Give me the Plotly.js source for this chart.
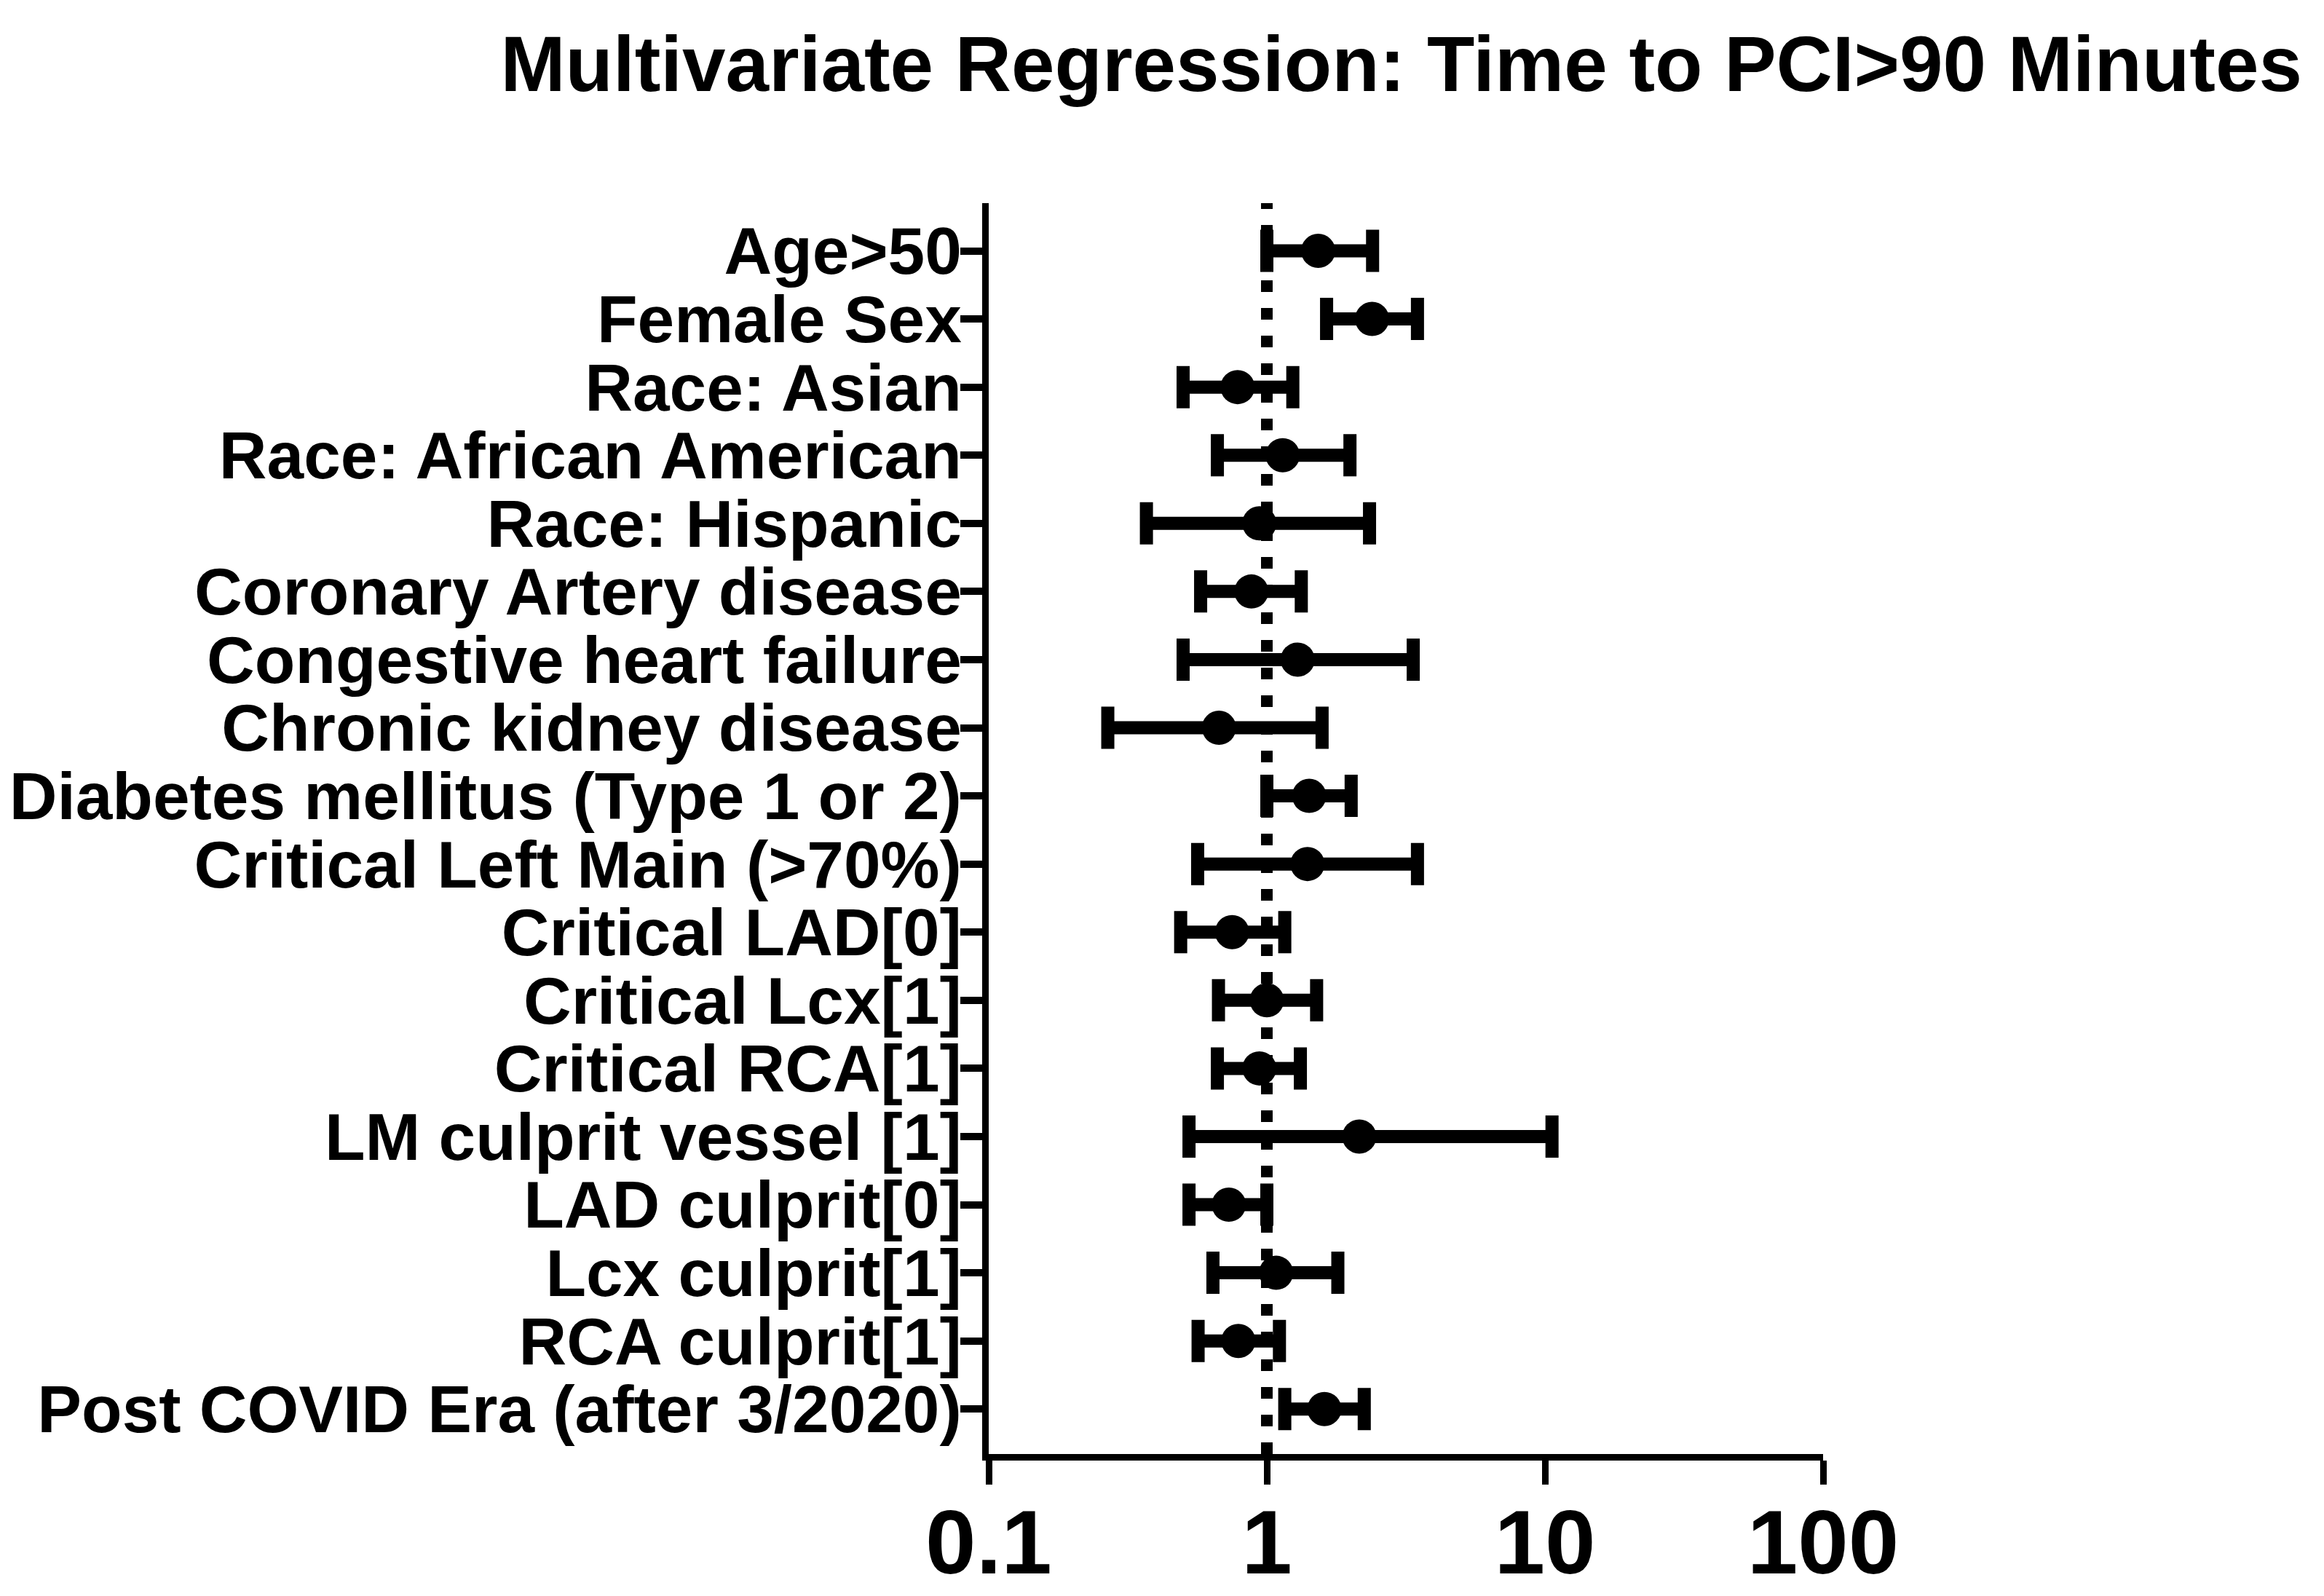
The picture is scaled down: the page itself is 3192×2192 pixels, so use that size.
<!DOCTYPE html>
<html>
<head>
<meta charset="utf-8">
<script src="https://cdn.plot.ly/plotly-3.0.1.min.js"></script>
<style>html,body{margin:0;padding:0;background:#fff;}#chart{width:3192px;height:2192px;}</style>
</head>
<body>
<div id="chart"></div>
<script>
const categories = [
  "Age>50",
  "Female Sex",
  "Race: Asian",
  "Race: African American",
  "Race: Hispanic",
  "Coronary Artery disease",
  "Congestive heart failure",
  "Chronic kidney disease",
  "Diabetes mellitus (Type 1 or 2)",
  "Critical Left Main (>70%)",
  "Critical LAD[0]",
  "Critical Lcx[1]",
  "Critical RCA[1]",
  "LM culprit vessel [1]",
  "LAD culprit[0]",
  "Lcx culprit[1]",
  "RCA culprit[1]",
  "Post COVID Era (after 3/2020)"
];
const oddsRatio = [1.53, 2.39, 0.785, 1.14, 0.94, 0.88, 1.29, 0.673, 1.42, 1.40, 0.75, 1.00, 0.94, 2.15, 0.73, 1.08, 0.79, 1.61];
const ciLower   = [1.00, 1.64, 0.50, 0.664, 0.369, 0.578, 0.50, 0.268, 1.00, 0.564, 0.49, 0.67, 0.664, 0.525, 0.525, 0.64, 0.566, 1.16];
const ciUpper   = [2.40, 3.48, 1.24, 1.99, 2.34, 1.33, 3.36, 1.58, 2.01, 3.48, 1.16, 1.51, 1.32, 10.6, 1.00, 1.80, 1.11, 2.24];
const xTickVals = [0.1, 1, 10, 100];
const xTickText = ["0.1", "1", "10", "100"];
const titleText = "Multivariate Regression: Time to PCI>90 Minutes";

const errPlus = oddsRatio.map((v, i) => ciUpper[i] - v);
const errMinus = oddsRatio.map((v, i) => v - ciLower[i]);

const FONT = "Liberation Sans, Arial, Helvetica, sans-serif";

const trace = {
  type: "scatter",
  mode: "markers",
  x: oddsRatio,
  y: categories,
  marker: {color: "#000", size: 47, symbol: "circle"},
  error_x: {
    type: "data",
    symmetric: false,
    array: errPlus,
    arrayminus: errMinus,
    color: "#000",
    thickness: 18,
    width: 29
  },
  cliponaxis: false,
  hoverinfo: "skip"
};

const layout = {
  width: 3192,
  height: 2192,
  paper_bgcolor: "#fff",
  plot_bgcolor: "#fff",
  showlegend: false,
  margin: {l: 1358, r: 688, t: 279, b: 195, pad: 0},
  title: {
    text: titleText,
    font: {family: FONT, size: 107, color: "#000", weight: 700},
    xref: "container", x: 3162 / 3192, xanchor: "right",
    yref: "container", y: 1 - 88 / 2192, yanchor: "middle"
  },
  xaxis: {
    type: "log",
    range: [-1, 2],
    tickmode: "array",
    tickvals: xTickVals,
    ticktext: xTickText,
    ticks: "outside",
    ticklen: 33,
    tickwidth: 9,
    tickcolor: "#000",
    ticklabelstandoff: -28,
    showline: true,
    linewidth: 9,
    linecolor: "#000",
    showgrid: false,
    zeroline: false,
    tickfont: {family: FONT, size: 125, color: "#000", weight: 700}
  },
  yaxis: {
    type: "category",
    range: [17.66, -0.7],
    tickmode: "array",
    tickvals: categories,
    ticktext: categories,
    ticks: "outside",
    ticklen: 30,
    tickwidth: 10,
    tickcolor: "#000",
    ticklabelstandoff: -20,
    showline: true,
    linewidth: 9,
    linecolor: "#000",
    showgrid: false,
    zeroline: false,
    tickfont: {family: FONT, size: 91, color: "#000", weight: 700}
  },
  shapes: [{
    type: "line",
    xref: "x", yref: "paper",
    x0: 1, x1: 1, y0: 0, y1: 1,
    line: {color: "#000", width: 16, dash: "16px,22px"},
    layer: "below"
  }]
};

Plotly.newPlot("chart", [trace], layout, {staticPlot: true, displayModeBar: false});
</script>
</body>
</html>
